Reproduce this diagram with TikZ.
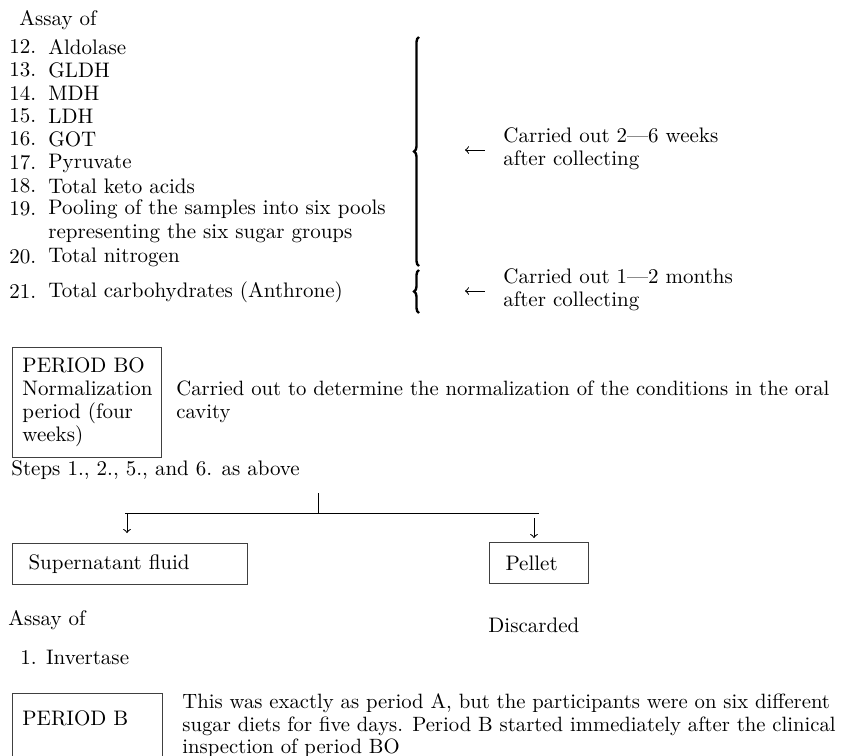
\documentclass[tikz,border=0pt]{standalone}
\usetikzlibrary{decorations.pathreplacing}
\begin{document}
\begin{tikzpicture}[x=0.5pt, y=-0.5pt,
  txt/.style={anchor=west, inner sep=0pt, align=left, font=\fontsize{10.5}{11.5}\selectfont},
  note/.style={txt, font=\fontsize{10.35}{11.25}\selectfont},
  boxx/.style={draw=black!75, line width=0.5pt, anchor=north west, inner ysep=0pt, align=left, font=\fontsize{10.5}{11.5}\selectfont},
  curly/.style={decorate, decoration={brace, amplitude=2.5pt}, line width=1.2pt},
  lnk/.style={line width=0.5pt}]
\useasboundingbox (0,0) rectangle (843,756);
% assay list, first part
\node[txt] (assay1) at (19,20) {Assay of};
\foreach \n/\t/\y in {12/Aldolase/47, 13/GLDH/70, 14/MDH/93, 15/LDH/116, 16/GOT/139, 17/Pyruvate/163, 18/Total keto acids/186, 19/Pooling of the samples into six pools/209, 20/Total nitrogen/257, 21/Total carbohydrates (Anthrone)/292} {
    \node[txt] (num\n) at (9,\y) {\n.};
    \node[txt] (item\n) at (48,\y) {\t};
}
\node[txt] (item19b) at (48,233) {representing the six sugar groups};
% braces and notes
\coordinate (bigtop) at (419,37);
\coordinate (bigbot) at (419,266);
\coordinate (smtop) at (419,270);
\coordinate (smbot) at (419,313);
\draw[curly] (bigbot) -- (bigtop);
\draw[curly] (smbot) -- (smtop);
\node[txt] (late1) at (503,149) {Carried out 2---6 weeks\\after collecting};
\node[txt] (late2) at (503,290) {Carried out 1---2 months\\after collecting};
\coordinate (tip1) at (465,150);
\coordinate (tip2) at (465,291);
\draw[lnk,<-,shorten >=9pt] (tip1) -- (tip1 -| late1.west);
\draw[lnk,<-,shorten >=9pt] (tip2) -- (tip2 -| late2.west);
% period BO
\node[boxx, inner xsep=5pt, text width=64.5pt, minimum height=55pt] (pbo) at (12,347) {PERIOD BO\\Normalization\\period (four\\weeks)};
\node[note] (pbonote) at (176,402) {Carried out to determine the normalization of the conditions in the oral\\cavity};
\node[txt] (steps) at (11,470) {Steps 1., 2., 5., and 6. as above};
% fork
\coordinate (stub) at (318,493);
\coordinate (fk) at (318,513);
\coordinate (fl) at (125,513);
\coordinate (fr) at (539,513);
\coordinate (la) at (127,513);
\coordinate (ra) at (534,513);
\draw[lnk] (stub) -- (fk);
\draw[lnk] (fl) -- (fr);
\node[boxx, inner xsep=8pt, text width=101.5pt, minimum height=20.5pt] (sup) at (12,543) {Supernatant fluid};
\node[boxx, inner xsep=8pt, text width=33.5pt, minimum height=20.5pt] (pel) at (489,542) {Pellet};
\draw[lnk,->,shorten >=5pt] (la) -- (la |- sup.north);
\draw[lnk,->,shorten <=2.5pt,shorten >=2pt] (ra) -- (ra |- pel.north);
\node[txt] (assay2) at (8,620) {Assay of};
\node[txt] (disc) at (488,625) {Discarded};
\node[txt] (inv) at (20,657) {1. Invertase};
% period B
\coordinate (pbfoot) at (0,756);
\node[txt, anchor=north west, inner xsep=5pt, text width=65pt, minimum height=25pt] (pb) at (12,693) {PERIOD B};
\draw[lnk, draw=black!75] (pb.south west |- pbfoot) -- (pb.north west) -- (pb.north east) -- (pb.south east |- pbfoot);
\node[note] (pbnote) at (182,726) {This was exactly as period A, but the participants were on six different\\sugar diets for five days. Period B started immediately after the clinical\\inspection of period BO};
\end{tikzpicture}
\end{document}
